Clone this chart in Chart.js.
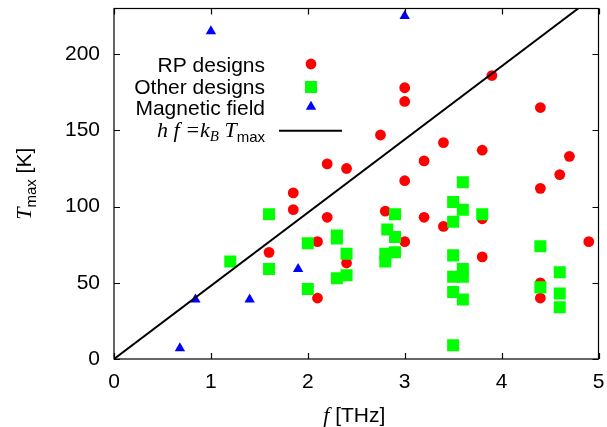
<!DOCTYPE html>
<html>
<head>
<meta charset="utf-8">
<script src="https://cdn.jsdelivr.net/npm/chart.js@4/dist/chart.umd.min.js"></script>
<style>
  html, body { margin: 0; padding: 0; background: white; }
  #wrap { width: 607px; height: 427px; }
</style>
</head>
<body>
<div id="wrap"><canvas id="c" width="607" height="427"></canvas></div>
<script>
// f [THz], Tmax [K]
const rpF = [1.6, 1.85, 1.85, 2.1, 2.1, 2.2, 2.2, 2.4, 2.4, 2.75, 2.8, 3.0, 3.0, 3.0, 3.0, 3.2, 3.2, 3.4, 3.4, 3.8, 3.8, 3.8, 3.9, 4.4, 4.4, 4.4, 4.4, 4.6, 4.7, 4.9];
const rpT = [70, 109, 98, 77, 40, 128, 93, 125, 63, 147, 97, 178, 169, 117, 77, 130, 93, 142, 87, 137, 92, 67, 186, 165, 112, 50, 40, 121, 133, 77];

const otherF = [1.2, 1.6, 1.6, 2.0, 2.0, 2.3, 2.3, 2.3, 2.4, 2.4, 2.8, 2.8, 2.9, 2.82, 2.9, 2.9, 3.5, 3.5, 3.5, 3.5, 3.5, 3.5, 3.6, 3.6, 3.6, 3.6, 3.6, 3.8, 4.4, 4.4, 4.6, 4.6, 4.6];
const otherT = [64, 95, 59, 76, 46, 81, 79, 53, 55, 69, 69, 64, 70, 85, 80, 95, 103, 90, 68, 54, 44, 9, 116, 98, 59, 54, 39, 95, 74, 47, 57, 43, 34];

const magF = [0.68, 0.84, 1.0, 1.4, 1.9, 3.0];
const magT = [7, 39, 215, 39, 59, 225];

// hf = kB Tmax, from origin to where it leaves the frame
const lineF = [0, 4.79];
const lineT = [0, 230];

const xTicks = [0, 1, 2, 3, 4, 5];
const yTicks = [0, 50, 100, 150, 200];

const legendLabels = ['RP designs', 'Other designs', 'Magnetic field'];

function pts(xs, ys) {
    return xs.map((v, i) => ({ x: v, y: ys[i] }));
}

const SANS = '"Liberation Sans", Arial, sans-serif';
const SERIF = '"Liberation Serif", "Times New Roman", serif';

const decor = {
    id: 'decor',
    afterDraw: (chart) => {
        const ctx = chart.ctx;
        const a = chart.chartArea;
        const xs = chart.scales.x, ys = chart.scales.y;
        ctx.save();

        // frame + inward ticks on all sides
        ctx.strokeStyle = 'black';
        ctx.lineWidth = 1.2;
        ctx.strokeRect(a.left, a.top, a.right - a.left, a.bottom - a.top);
        ctx.beginPath();
        xTicks.forEach(v => {
            const px = Math.round(xs.getPixelForValue(v)) + 0.5;
            ctx.moveTo(px, a.bottom); ctx.lineTo(px, a.bottom - 6);
            ctx.moveTo(px, a.top); ctx.lineTo(px, a.top + 6);
        });
        yTicks.forEach(v => {
            const py = Math.round(ys.getPixelForValue(v)) + 0.5;
            ctx.moveTo(a.left, py); ctx.lineTo(a.left + 6, py);
            ctx.moveTo(a.right, py); ctx.lineTo(a.right - 6, py);
        });
        ctx.stroke();

        // legend, text right aligned, symbol on the right
        ctx.fillStyle = 'black';
        ctx.textAlign = 'right';
        ctx.textBaseline = 'alphabetic';
        ctx.font = '21px ' + SANS;
        const tx = 265, mx = 311;
        const rows = [72, 93.7, 115.3, 137];
        legendLabels.forEach((t, i) => ctx.fillText(t, tx, rows[i]));

        ctx.fillStyle = 'red';
        ctx.beginPath(); ctx.arc(mx, 64, 5.4, 0, Math.PI * 2); ctx.fill();
        ctx.fillStyle = '#00ff00';
        ctx.fillRect(mx - 6, 87 - 6, 12, 12);
        ctx.fillStyle = 'blue';
        ctx.beginPath();
        ctx.moveTo(mx, 106.7 - 6); ctx.lineTo(mx + 5.2, 106.7 + 3); ctx.lineTo(mx - 5.2, 106.7 + 3);
        ctx.closePath(); ctx.fill();
        ctx.strokeStyle = 'black'; ctx.lineWidth = 2;
        ctx.beginPath(); ctx.moveTo(279, 130.7); ctx.lineTo(342, 130.7); ctx.stroke();

        // "h f =k_B T_max"
        ctx.fillStyle = 'black';
        const parts = [
            { t: 'h f =k', f: 'italic 22px ' + SERIF, dy: 0 },
            { t: 'B', f: 'italic 15px ' + SERIF, dy: 4 },
            { t: ' T', f: 'italic 22px ' + SERIF, dy: 0 },
            { t: 'max', f: '15px ' + SANS, dy: 5 }
        ];
        let x = tx;
        for (let i = parts.length - 1; i >= 0; i--) {
            ctx.font = parts[i].f;
            ctx.fillText(parts[i].t, x, rows[3] + parts[i].dy);
            x -= ctx.measureText(parts[i].t).width;
        }

        // x title
        ctx.textAlign = 'left';
        ctx.font = 'italic 22px ' + SERIF;
        const fw = ctx.measureText('f').width;
        ctx.font = '21px ' + SANS;
        const uw = ctx.measureText(' [THz]').width;
        let sx = (a.left + a.right) / 2 - 2 - (fw + uw) / 2;
        ctx.font = 'italic 22px ' + SERIF;
        ctx.fillText('f', sx, 422);
        ctx.font = '21px ' + SANS;
        ctx.fillText(' [THz]', sx + fw, 422);

        // y title
        ctx.translate(31, (a.top + a.bottom) / 2);
        ctx.rotate(-Math.PI / 2);
        ctx.font = 'italic 22px ' + SERIF;
        const tw = ctx.measureText('T').width;
        ctx.font = '15px ' + SANS;
        const mw = ctx.measureText('max').width;
        ctx.font = '21px ' + SANS;
        const kw = ctx.measureText(' [K]').width;
        sx = -(tw + mw + kw) / 2;
        ctx.font = 'italic 22px ' + SERIF;
        ctx.fillText('T', sx, 0);
        ctx.font = '15px ' + SANS;
        ctx.fillText('max', sx + tw, 5);
        ctx.font = '21px ' + SANS;
        ctx.fillText(' [K]', sx + tw + mw, 0);

        ctx.restore();
    }
};

const bg = {
    id: 'custom_canvas_background_color',
    beforeDraw: (chart) => {
        const ctx = chart.canvas.getContext('2d');
        ctx.save();
        ctx.globalCompositeOperation = 'destination-over';
        ctx.fillStyle = 'white';
        ctx.fillRect(0, 0, chart.width, chart.height);
        ctx.restore();
    }
};

new Chart(document.getElementById('c'), {
    type: 'scatter',
    plugins: [bg, decor],
    data: {
        datasets: [
            {
                label: legendLabels[0],
                data: pts(rpF, rpT),
                pointStyle: 'circle',
                pointRadius: 5.4,
                pointBackgroundColor: 'red',
                pointBorderWidth: 0,
                order: 3
            },
            {
                label: legendLabels[1],
                data: pts(otherF, otherT),
                pointStyle: 'rect',
                pointRadius: 8.5,
                pointBackgroundColor: '#00ff00',
                pointBorderWidth: 0,
                order: 2
            },
            {
                label: legendLabels[2],
                data: pts(magF, magT),
                pointStyle: 'triangle',
                pointRadius: 6,
                pointBackgroundColor: 'blue',
                pointBorderWidth: 0,
                order: 1
            },
            {
                type: 'line',
                label: 'hf = kB Tmax',
                data: pts(lineF, lineT),
                borderColor: 'black',
                borderWidth: 2,
                pointRadius: 0,
                order: 0
            }
        ]
    },
    options: {
        responsive: false,
        animation: false,
        events: [],
        layout: { padding: { left: 0, right: 8, top: 7, bottom: 0 } },
        scales: {
            x: {
                type: 'linear',
                min: 0,
                max: 5,
                afterFit: (s) => {
                    s.height = 68;
                    s.paddingLeft = 0; s.paddingRight = 0;
                },
                afterBuildTicks: (s) => { s.ticks = xTicks.map(v => ({ value: v })); },
                grid: { display: false, drawTicks: false },
                border: { display: false },
                ticks: {
                    color: 'black',
                    padding: 11,
                    maxRotation: 0,
                    font: { family: SANS, size: 21 }
                }
            },
            y: {
                type: 'linear',
                min: 0,
                max: 230,
                afterFit: (s) => {
                    s.width = 114;
                    s.paddingTop = 0; s.paddingBottom = 0;
                },
                afterBuildTicks: (s) => { s.ticks = yTicks.map(v => ({ value: v })); },
                grid: { display: false, drawTicks: false },
                border: { display: false },
                ticks: {
                    color: 'black',
                    padding: 14,
                    font: { family: SANS, size: 21 }
                }
            }
        },
        plugins: {
            legend: { display: false },
            tooltip: { enabled: false }
        }
    }
});
</script>
</body>
</html>
